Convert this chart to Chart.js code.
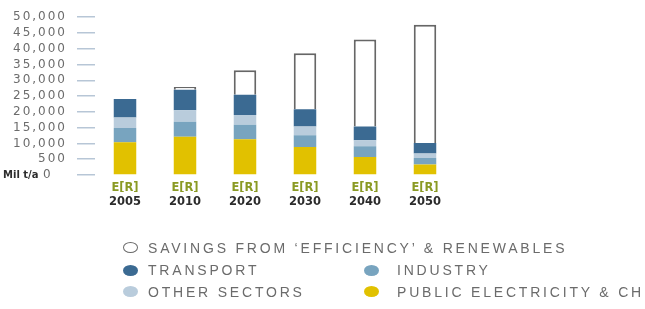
<!DOCTYPE html>
<html>
<head>
<meta charset="utf-8">
<script src="https://cdn.jsdelivr.net/npm/chart.js@4/dist/chart.umd.min.js"></script>
<style>
    html, body { margin: 0; padding: 0; background: #ffffff; overflow: hidden; }
    #wrap { position: relative; width: 645px; height: 309px; overflow: hidden; }
    #co2Chart { position: absolute; left: 0; top: 0; }
    .legend-item {
        position: absolute;
        height: 14px;
        line-height: 14px;
        font-family: "Liberation Sans", Arial, sans-serif;
        font-size: 14px;
        letter-spacing: 2.8px;
        color: #6b6b6b;
        white-space: nowrap;
    }
    .legend-dot {
        position: absolute;
        left: 0;
        top: 1.5px;
        width: 15px;
        height: 11px;
        border-radius: 50%;
        box-sizing: border-box;
    }
    .legend-text { position: absolute; top: 0; }
</style>
</head>
<body>
<div id="wrap">
    <canvas id="co2Chart" width="645" height="309"></canvas>
    <div id="legend"></div>
</div>
<script>
const years = ['2005', '2010', '2020', '2030', '2040', '2050'];
const scenarioLabels = ['E[R]', 'E[R]', 'E[R]', 'E[R]', 'E[R]', 'E[R]'];
const yTickLabels = ['0', '500', '10,000', '15,000', '20,000', '25,000', '30,000', '35,000', '40,000', '45,000', '50,000'];
const unitLabel = 'Mil t/a';

// Mil t/a
const publicElectricity = [10400, 12100, 11300, 8900, 5700, 3300];
const industry = [4500, 4800, 4600, 3700, 3400, 2100];
const otherSectors = [3300, 3600, 3100, 2800, 1900, 1400];
const transport = [5900, 6500, 6400, 5400, 4400, 3300];
const savings = [0, 900, 7800, 17800, 27500, 37500];

const seriesNames = [
    'PUBLIC ELECTRICITY & CHP',
    'INDUSTRY',
    'OTHER SECTORS',
    'TRANSPORT',
    'SAVINGS FROM \u2018EFFICIENCY\u2019 & RENEWABLES'
];

document.addEventListener('DOMContentLoaded', function() {
    createCo2Chart();
});

const tickColor = '#6c6c6c';

// y labels are letter spaced, x labels are not (x ticks are drawn after datasets, ticks.z: 1)
const spacingPlugin = {
    id: 'spacing',
    beforeDraw(chart) {
        chart.ctx.letterSpacing = '2px';
    },
    beforeDatasetsDraw(chart) {
        chart.ctx.letterSpacing = '0px';
    }
};

const unitLabelPlugin = {
    id: 'unitLabel',
    afterDraw(chart) {
        const ctx = chart.ctx;
        const y = chart.scales.y.getPixelForValue(0);
        ctx.save();
        ctx.letterSpacing = '0px';
        ctx.textAlign = 'left';
        ctx.textBaseline = 'middle';
        ctx.font = 'bold 10px "DejaVu Sans"';
        ctx.fillStyle = '#2e2e2e';
        ctx.fillText(unitLabel, 3, y);
        ctx.font = '12px "DejaVu Sans"';
        ctx.fillStyle = tickColor;
        ctx.fillText(yTickLabels[0], 43, y);
        ctx.restore();
    }
};

function buildLegend(chart) {
    // [dot centre x, row centre y, text x] for each dataset
    const slots = [[371, 291.5, 397], [371, 270, 397], [130, 291.5, 148], [130, 270, 148], [130, 247.5, 148]];
    const box = document.getElementById('legend');
    box.innerHTML = '';
    chart.data.datasets.forEach((ds, i) => {
        const item = document.createElement('div');
        item.className = 'legend-item';
        const left = slots[i][0] - 7.5;
        item.style.left = left + 'px';
        item.style.top = (slots[i][1] - 7) + 'px';
        const dot = document.createElement('span');
        dot.className = 'legend-dot';
        dot.style.background = ds.backgroundColor;
        if (ds.backgroundColor === '#ffffff') {
            dot.style.border = '1.5px solid #6a6a6a';
        }
        const text = document.createElement('span');
        text.className = 'legend-text';
        text.style.left = (slots[i][2] - left) + 'px';
        text.textContent = ds.label;
        item.appendChild(dot);
        item.appendChild(text);
        box.appendChild(item);
    });
}

function createCo2Chart() {
    const ctx = document.getElementById('co2Chart').getContext('2d');
    const barStyle = { barPercentage: 0.375, categoryPercentage: 1, borderWidth: 0 };

    const co2Chart = new Chart(ctx, {
        type: 'bar',
        data: {
            labels: scenarioLabels,
            datasets: [
                Object.assign({ label: seriesNames[0], data: publicElectricity, backgroundColor: '#e1c100' }, barStyle),
                Object.assign({ label: seriesNames[1], data: industry, backgroundColor: '#78a4bf' }, barStyle),
                Object.assign({ label: seriesNames[2], data: otherSectors, backgroundColor: '#b9ccdc' }, barStyle),
                Object.assign({ label: seriesNames[3], data: transport, backgroundColor: '#3b6a92' }, barStyle),
                Object.assign({ label: seriesNames[4], data: savings, backgroundColor: '#ffffff' }, barStyle, {
                    borderWidth: 2,
                    borderColor: '#666666'
                })
            ]
        },
        options: {
            responsive: false,
            animation: false,
            layout: {
                padding: { left: 0, right: 190, top: 7, bottom: 100 }
            },
            scales: {
                x: {
                    stacked: true,
                    grid: { display: false, drawTicks: false },
                    border: { display: false },
                    ticks: {
                        z: 1,
                        color: '#8a9a24',
                        padding: 6,
                        font: { family: 'DejaVu Sans', size: 11.5, weight: 'bold' }
                    },
                    afterFit: function(scale) { scale.height = 17; }
                },
                x2: {
                    type: 'category',
                    labels: years,
                    position: 'bottom',
                    grid: { display: false, drawTicks: false },
                    border: { display: false },
                    ticks: {
                        z: 1,
                        color: '#2b2b2b',
                        padding: 3,
                        font: { family: 'DejaVu Sans', size: 11.5, weight: 'bold' }
                    },
                    afterFit: function(scale) { scale.height = 17; }
                },
                y: {
                    stacked: true,
                    min: 0,
                    max: 50000,
                    grid: {
                        drawOnChartArea: false,
                        drawTicks: true,
                        tickLength: 18,
                        color: '#b7c6d6',
                        lineWidth: 1.5
                    },
                    border: { display: false },
                    ticks: {
                        stepSize: 5000,
                        autoSkip: false,
                        padding: 10,
                        color: tickColor,
                        font: { family: 'DejaVu Sans', size: 12 },
                        callback: function(value, index) {
                            if (index === 0) {
                                return '';
                            }
                            return yTickLabels[index];
                        }
                    },
                    afterFit: function(scale) { scale.width = 95; }
                }
            },
            plugins: {
                legend: { display: false },
                tooltip: { enabled: false }
            }
        },
        plugins: [spacingPlugin, unitLabelPlugin]
    });

    buildLegend(co2Chart);
}
</script>
</body>
</html>
